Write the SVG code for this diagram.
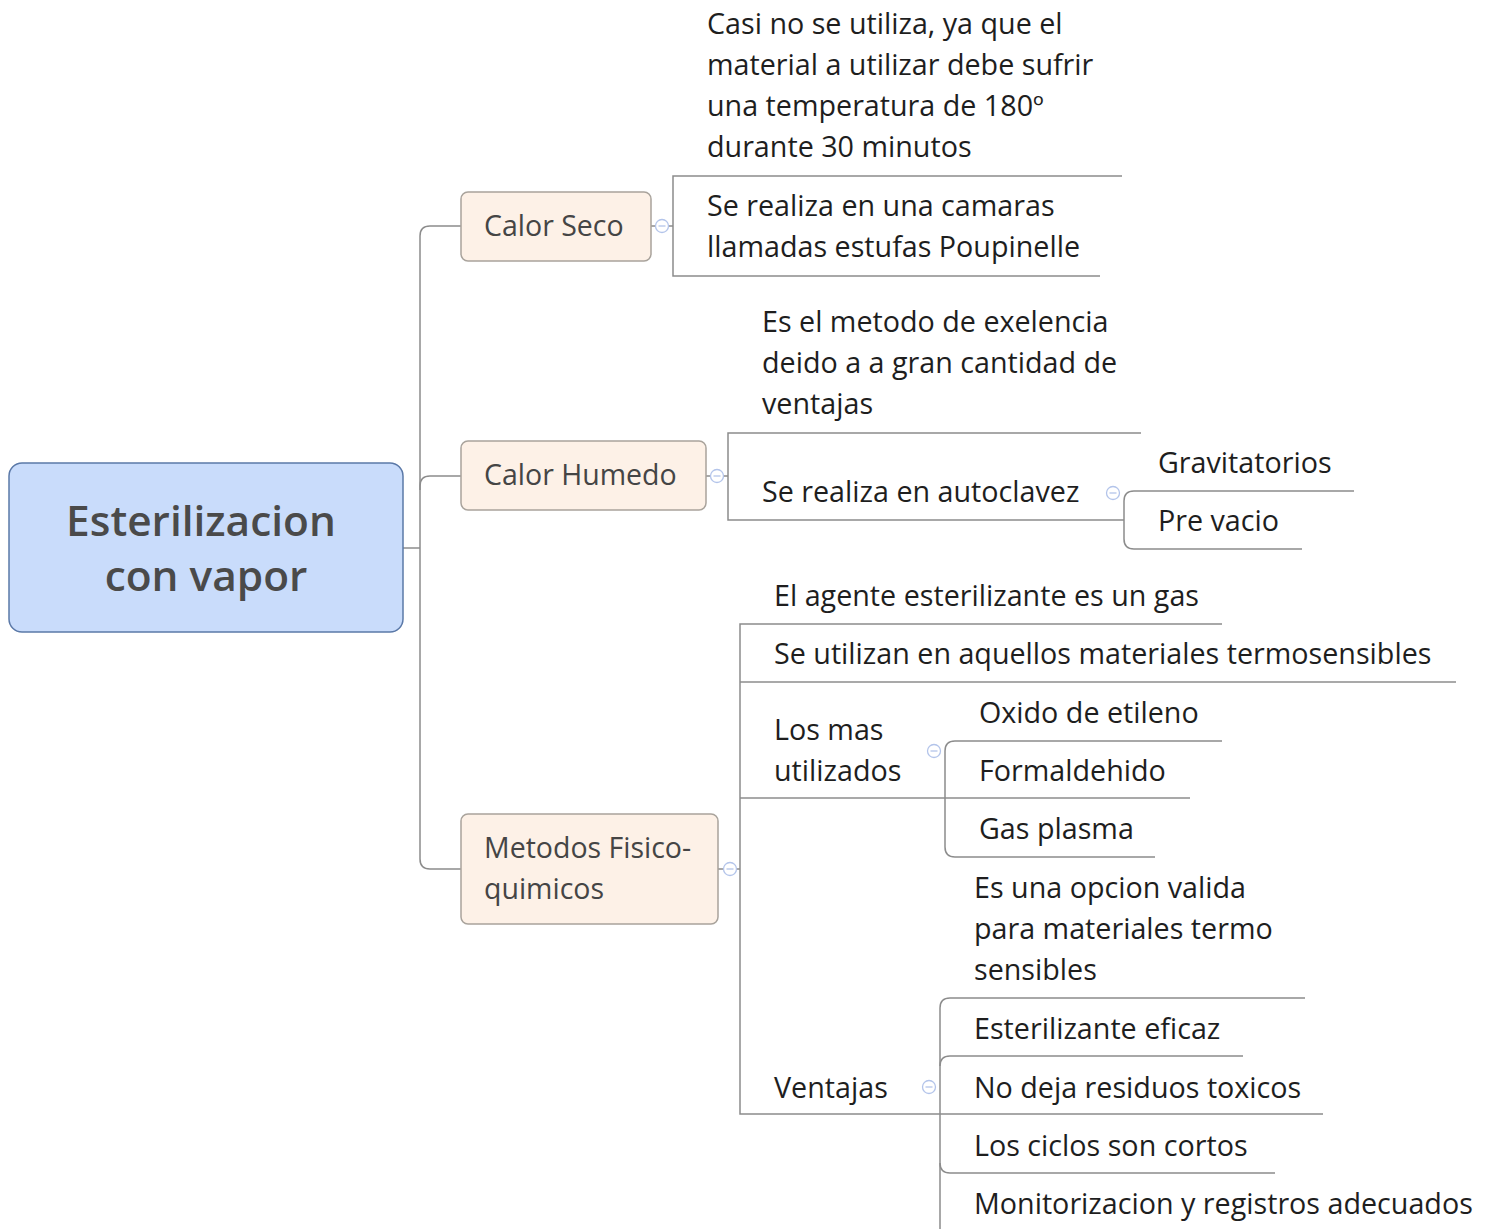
<svg xmlns="http://www.w3.org/2000/svg" width="1504" height="1229" viewBox="0 0 1504 1229">
<style>
.ln{fill:none;stroke:#8c8c8c;stroke-width:1.5}
.t{font-family:"Open Sans","Noto Sans",sans-serif;font-size:28.7px;fill:#1e1e1e}
.bt{font-family:"Open Sans","Noto Sans",sans-serif;font-size:28.5px;fill:#454545}
.box{fill:#fdf1e7;stroke:#a9a39c;stroke-width:1.5}
.col{fill:#fff;stroke:#b3c4ea;stroke-width:1.3}
.cm{stroke:#b3c4ea;stroke-width:1.3}
</style>
<rect width="1504" height="1229" fill="#fff"/>
<g id="connectors">
<path class="ln" d="M403,548 H420"/>
<path class="ln" d="M461,226 H430 Q420,226 420,236 V859 Q420,869 430,869 H461"/>
<path class="ln" d="M420,490 V486 Q420,476 430,476 H461"/>
<path class="ln" d="M651,226 H673"/>
<path class="ln" d="M1122,176 H673 V276 H1100"/>
<path class="ln" d="M706,476 H728"/>
<path class="ln" d="M1141,433 H728 V520 H1124"/>
<path class="ln" d="M1354,491 H1134 Q1124,491 1124,501 V539 Q1124,549 1134,549 H1302"/>
<path class="ln" d="M718,869 H740"/>
<path class="ln" d="M1222,624 H740 V1114 H1323"/>
<path class="ln" d="M740,682 H1456"/>
<path class="ln" d="M740,798 H1190"/>
<path class="ln" d="M1222,741 H955 Q945,741 945,751 V847 Q945,857 955,857 H1155"/>
<path class="ln" d="M1305,998 H950 Q940,998 940,1008 V1229"/>
<path class="ln" d="M1243,1056 H950 Q940,1056 940,1066"/>
<path class="ln" d="M940,1163 Q940,1173 950,1173 H1275"/>
</g>
<g id="root">
<rect x="9" y="463" width="394" height="169" rx="13" fill="#c9dcfb" stroke="#5b79a8" stroke-width="1.5"/>
<text x="201" y="536" text-anchor="middle" font-family="'Open Sans','Noto Sans',sans-serif" font-size="42.4" font-weight="600" fill="#4a4a4a">Esterilizacion</text>
<text x="206" y="591" text-anchor="middle" font-family="'Open Sans','Noto Sans',sans-serif" font-size="42.4" font-weight="600" fill="#4a4a4a">con vapor</text>
</g>
<g id="calor-seco">
<rect class="box" x="461" y="192" width="190" height="69" rx="7"/>
<text class="bt" x="484" y="236">Calor Seco</text>
<circle class="col" cx="662" cy="226" r="6.5"/><path class="cm" d="M658.5,226 H665.5"/>
</g>
<g id="cs-1">
<text class="t" x="707" y="34">Casi no se utiliza, ya que el</text>
<text class="t" x="707" y="75">material a utilizar debe sufrir</text>
<text class="t" x="707" y="116">una temperatura de 180º</text>
<text class="t" x="707" y="157">durante 30 minutos</text>
</g>
<g id="cs-2">
<text class="t" x="707" y="216">Se realiza en una camaras</text>
<text class="t" x="707" y="257">llamadas estufas Poupinelle</text>
</g>
<g id="calor-humedo">
<rect class="box" x="461" y="441" width="245" height="69" rx="7"/>
<text class="bt" x="484" y="485">Calor Humedo</text>
<circle class="col" cx="717" cy="476" r="6.5"/><path class="cm" d="M713.5,476 H720.5"/>
</g>
<g id="ch-1">
<text class="t" x="762" y="332">Es el metodo de exelencia</text>
<text class="t" x="762" y="373">deido a a gran cantidad de</text>
<text class="t" x="762" y="414">ventajas</text>
</g>
<g id="ch-2">
<text class="t" x="762" y="502">Se realiza en autoclavez</text>
<circle class="col" cx="1113" cy="493" r="6.5"/><path class="cm" d="M1109.5,493 H1116.5"/>
</g>
<g id="grav"><text class="t" x="1158" y="473">Gravitatorios</text></g>
<g id="prevacio"><text class="t" x="1158" y="531">Pre vacio</text></g>
<g id="metodos">
<rect class="box" x="461" y="814" width="257" height="110" rx="7"/>
<text class="bt" x="484" y="858">Metodos Fisico-</text>
<text class="bt" x="484" y="899">quimicos</text>
<circle class="col" cx="730" cy="869" r="6.5"/><path class="cm" d="M726.5,869 H733.5"/>
</g>
<g id="m-1"><text class="t" x="774" y="606">El agente esterilizante es un gas</text></g>
<g id="m-2"><text class="t" x="774" y="664">Se utilizan en aquellos materiales termosensibles</text></g>
<g id="m-3">
<text class="t" x="774" y="740">Los mas</text>
<text class="t" x="774" y="781">utilizados</text>
<circle class="col" cx="934" cy="751" r="6.5"/><path class="cm" d="M930.5,751 H937.5"/>
</g>
<g id="oxido"><text class="t" x="979" y="723">Oxido de etileno</text></g>
<g id="formal"><text class="t" x="979" y="781">Formaldehido</text></g>
<g id="plasma"><text class="t" x="979" y="839">Gas plasma</text></g>
<g id="ventajas">
<text class="t" x="774" y="1098">Ventajas</text>
<circle class="col" cx="929" cy="1087" r="6.5"/><path class="cm" d="M925.5,1087 H932.5"/>
</g>
<g id="v-1">
<text class="t" x="974" y="898">Es una opcion valida</text>
<text class="t" x="974" y="939">para materiales termo</text>
<text class="t" x="974" y="980">sensibles</text>
</g>
<g id="v-2"><text class="t" x="974" y="1039">Esterilizante eficaz</text></g>
<g id="v-3"><text class="t" x="974" y="1098">No deja residuos toxicos</text></g>
<g id="v-4"><text class="t" x="974" y="1156">Los ciclos son cortos</text></g>
<g id="v-5"><text class="t" x="974" y="1214">Monitorizacion y registros adecuados</text></g>
</svg>
